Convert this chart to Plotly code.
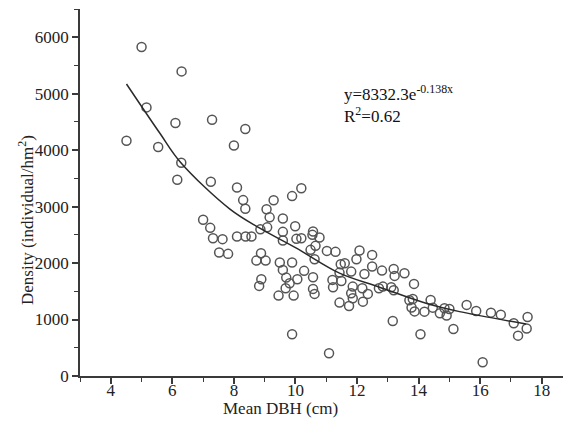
import plotly.graph_objects as go

# Scatter data: mean DBH (cm) vs density (individual/hm2)
dbh = [5.00, 6.30, 5.16, 6.10, 7.29, 8.37, 4.51, 5.54, 8.00, 6.29,
       6.16, 7.25, 8.10, 8.30, 8.37, 9.29, 9.89, 10.19, 9.06, 9.16,
       9.59, 7.00, 7.23, 9.08, 9.99, 8.86, 9.59, 10.57, 7.32, 7.63,
       8.10, 8.38, 8.57, 7.52, 7.81, 8.88, 8.73, 9.03, 8.82, 8.89,
       9.59, 10.03, 10.19, 10.55, 10.78, 10.65, 10.49, 11.02, 11.30, 10.62,
       9.49, 9.89, 9.59, 10.28, 10.06, 9.70, 9.81, 9.68, 9.45, 9.94,
       10.57, 10.57, 10.62, 11.47, 11.60, 11.43, 11.20, 11.49, 11.22, 11.43,
       11.74, 9.89, 11.09, 12.08, 11.98, 12.49, 11.81, 12.24, 12.49, 12.81,
       13.19, 13.22, 13.54, 13.85, 11.86, 11.81, 11.86, 12.17, 12.35, 12.71,
       12.84, 13.11, 13.19, 12.19, 13.70, 13.81, 13.77, 13.87, 14.19, 14.39,
       14.46, 14.69, 14.84, 15.00, 14.91, 15.13, 15.56, 15.87, 16.35, 16.67,
       17.09, 17.54, 17.51, 17.23, 16.08, 13.16, 14.06]
density = [5828, 5395, 4757, 4480, 4539, 4374, 4167, 4055, 4083, 3776,
           3475, 3440, 3339, 3115, 2961, 3112, 3186, 3324, 2952, 2810,
           2789, 2766, 2624, 2633, 2651, 2597, 2553, 2558, 2441, 2424,
           2470, 2470, 2470, 2186, 2163, 2175, 2044, 2044, 1596, 1714,
           2399, 2429, 2441, 2500, 2452, 2305, 2234, 2216, 2199, 2069,
           2009, 2009, 1879, 1862, 1714, 1743, 1644, 1555, 1424, 1424,
           1750, 1543, 1454, 1980, 1998, 1831, 1702, 1684, 1573, 1300,
           1241, 739, 402, 2222, 2069, 2145, 1849, 1808, 1938, 1867,
           1897, 1773, 1821, 1631, 1583, 1466, 1378, 1555, 1454, 1555,
           1583, 1573, 1519, 1317, 1342, 1365, 1214, 1144, 1140, 1347,
           1211, 1112, 1200, 1188, 1073, 833, 1259, 1152, 1122, 1087,
           934, 1046, 842, 715, 243, 975, 739]

# Fitted curve
curve_x = [4.51, 5.59, 6.27, 7.87, 8.84, 10.03, 11.43, 12.73, 14.24, 15.33, 17.49]
curve_y = [5172, 4303, 3782, 2956, 2619, 2264, 1821, 1573, 1289, 1140, 922]

x_ticks = [4, 6, 8, 10, 12, 14, 16, 18]
y_ticks = [0, 1000, 2000, 3000, 4000, 5000, 6000]

FONT = "Liberation Serif"
AX = "#3a3a3a"

fig = go.Figure()
fig.add_trace(go.Scatter(
    x=dbh, y=density, mode="markers",
    marker=dict(symbol="circle-open", size=9, color="#555555",
                line=dict(width=1.5, color="#555555")),
    showlegend=False, hoverinfo="x+y"))
fig.add_trace(go.Scatter(
    x=curve_x, y=curve_y, mode="lines",
    line=dict(color="#2a2a2a", width=1.5, shape="spline", smoothing=1.0),
    showlegend=False, hoverinfo="skip"))

fig.add_annotation(
    x=11.5, y=5250, xref="x", yref="y", xanchor="left", yanchor="top",
    align="left", showarrow=False,
    text="y=8332.3e<sup>-0.138x</sup><br>R<sup>2</sup>=0.62",
    font=dict(family=FONT, size=17, color="#111111"))

# Axis titles
fig.add_annotation(
    x=-0.110, y=0.425, xref="paper", yref="paper", xanchor="center", yanchor="middle",
    textangle=-90, showarrow=False, text="Density (individual/hm<sup>2</sup>)",
    font=dict(family=FONT, size=17, color="#222222"))
fig.add_annotation(
    x=0.409, y=-0.088, xref="paper", yref="paper", xanchor="center", yanchor="middle",
    showarrow=False, text="Mean DBH (cm)",
    font=dict(family=FONT, size=17, color="#222222"))

fig.update_layout(
    width=563, height=417,
    margin=dict(l=72, r=0, t=1, b=49, autoexpand=False),
    plot_bgcolor="white", paper_bgcolor="white",
    font=dict(family=FONT, size=17, color="#222222"),
    xaxis=dict(
        range=[3, 18.95], tickvals=x_ticks, ticktext=[str(v) for v in x_ticks],
        showgrid=False, zeroline=False, showline=True, linecolor=AX, linewidth=1.5,
        ticks="outside", ticklen=6, tickwidth=1.5, tickcolor=AX, automargin=False,
        ticklabelstandoff=-8,
        minor=dict(dtick=1, tick0=3, ticks="outside", ticklen=4, tickwidth=1.2, tickcolor=AX)),
    yaxis=dict(
        range=[0, 6500], tickvals=y_ticks, ticktext=[str(v) for v in y_ticks],
        showgrid=False, zeroline=False, showline=True, linecolor=AX, linewidth=1.5,
        ticks="outside", ticklen=6, tickwidth=1.5, tickcolor=AX, automargin=False,
        minor=dict(dtick=500, tick0=0, ticks="outside", ticklen=4, tickwidth=1.2, tickcolor=AX)),
)

fig.write_html("out.html")
